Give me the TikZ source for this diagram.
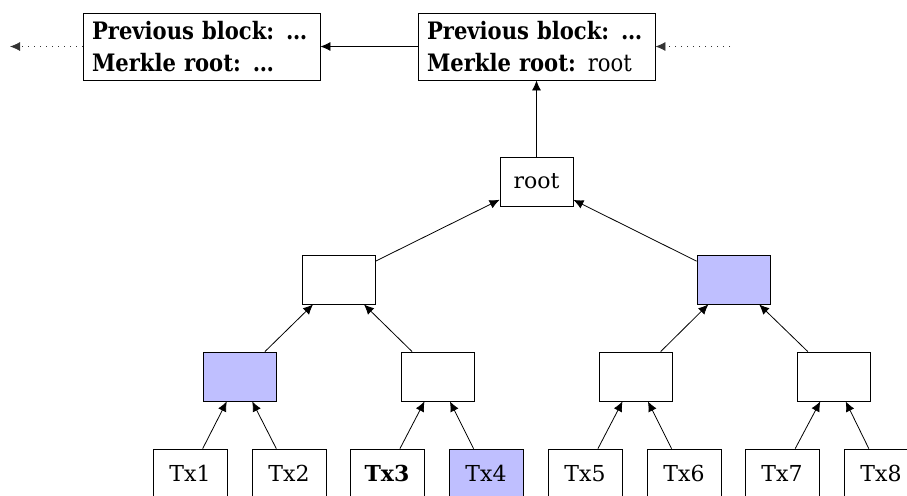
\documentclass[tikz,border=0pt]{standalone}
\usepackage{fontspec}
\setmainfont{DejaVu Serif}
\newfontfamily\blockfont{DejaVu Serif}[FakeStretch=0.88]
\usetikzlibrary{arrows.meta}
\begin{document}
\begin{tikzpicture}[x=0.5pt,y=-0.5pt,>={Latex[length=5pt,width=4.5pt]},
    hash/.style={draw,minimum width=36.5pt,minimum height=24.5pt,inner sep=0pt,
      font=\fontsize{11}{13}\selectfont},
    marked/.style={fill=blue!25},
    faraway/.style={draw=black!80,dash pattern=on 0.4pt off 2.6pt},
    blockbox/.style={draw,align=left,text width=109.5pt,inner xsep=4.5pt,
      minimum height=33.5pt,inner ysep=0pt,font=\blockfont\fontsize{12}{16}\selectfont}]

      \useasboundingbox (0,0) rectangle (907,495);

      % chain of blocks
      \node[blockbox] (blk1) at (201.5,46.5) {\textbf{Previous block:} \textbf{…}\\\textbf{Merkle root:} \textbf{…}};
      \node[blockbox] (blk2) at (536.5,46.5) {\textbf{Previous block:} \textbf{…}\\\textbf{Merkle root:} root};
      \coordinate (older) at (10,46.5);
      \coordinate (newer) at (730,46.5);

      % merkle tree
      \begin{scope}[every node/.style={hash}]
        \node (root) at (536.5,181.5) {root};
        \node (l)  at (338.5,279.5) {};
        \node[marked] (r)  at (733.5,279.5) {};
        \node[marked] (m1) at (239.5,376.5) {};
        \node (m2) at (437.5,376.5) {};
        \node (m3) at (635.5,376.5) {};
        \node (m4) at (833.5,376.5) {};
        \node[minimum width=37pt] (t1) at (190,473.5) {Tx1};
        \node[minimum width=37pt] (t2) at (289,473.5) {Tx2};
        \node[minimum width=37pt] (t3) at (387,473.5) {\textbf{Tx3}};
        \node[minimum width=37pt,marked] (t4) at (486,473.5) {Tx4};
        \node[minimum width=37pt] (t5) at (585,473.5) {Tx5};
        \node[minimum width=37pt] (t6) at (684,473.5) {Tx6};
        \node[minimum width=37pt] (t7) at (782,473.5) {Tx7};
        \node[minimum width=37pt] (t8) at (881,473.5) {Tx8};
      \end{scope}

      \begin{scope}[every edge/.style={draw,->}]
        \path (t1) edge (m1);
        \path (t2) edge (m1);
        \path (t3) edge (m2);
        \path (t4) edge (m2);
        \path (t5) edge (m3);
        \path (t6) edge (m3);
        \path (t7) edge (m4);
        \path (t8) edge (m4);
        \path (m1) edge (l);
        \path (m2) edge (l);
        \path (m3) edge (r);
        \path (m4) edge (r);
        \path (l)  edge (root);
        \path (r)  edge (root);
        \path (root) edge (blk2);
        \path (blk2) edge (blk1);
        \path (blk1) edge[faraway] (older);
        \path (newer) edge[faraway] (blk2);
      \end{scope}

    \end{tikzpicture}
\end{document}
